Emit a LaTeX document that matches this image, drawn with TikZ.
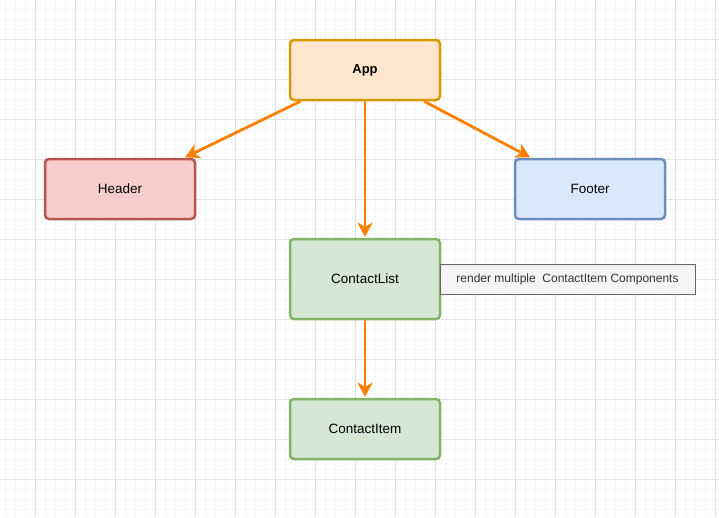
\documentclass[tikz,border=0pt]{standalone}
\usepackage{fontspec}
\setmainfont{Liberation Sans}
\usetikzlibrary{arrows.meta}
\definecolor{gridminor}{HTML}{F6F6F6}
\definecolor{gridmajor}{HTML}{E2E2E2}
\definecolor{appfill}{HTML}{FFE6CC}
\definecolor{appdraw}{HTML}{D79B00}
\definecolor{redfill}{HTML}{F8CECC}
\definecolor{reddraw}{HTML}{B85450}
\definecolor{bluefill}{HTML}{DAE8FC}
\definecolor{bluedraw}{HTML}{6C8EBF}
\definecolor{greenfill}{HTML}{D5E8D4}
\definecolor{greendraw}{HTML}{82B366}
\definecolor{notefill}{HTML}{F5F5F5}
\definecolor{notedraw}{HTML}{666666}
\definecolor{notetext}{HTML}{333333}
\definecolor{edgecol}{HTML}{FF8000}
\begin{document}
\begin{tikzpicture}[x=1pt,y=-1pt,
  box/.style={rectangle, rounded corners=4pt, line width=2.5pt, minimum width=150pt, inner sep=0pt, font=\fontsize{13.5}{16}\selectfont},
  appbox/.style={box, fill=appfill, draw=appdraw, minimum height=60pt, font=\fontsize{13}{16}\selectfont\bfseries},
  redbox/.style={box, fill=redfill, draw=reddraw, minimum height=60pt},
  bluebox/.style={box, fill=bluefill, draw=bluedraw, minimum height=60pt},
  greenbox/.style={box, fill=greenfill, draw=greendraw},
  notebox/.style={rectangle, fill=notefill, draw=notedraw, line width=0.8pt, minimum width=255pt, minimum height=30pt, inner sep=0pt, text=notetext, font=\fontsize{12}{14}\selectfont},
  edge/.style={draw=edgecol, line width=2.8pt, shorten >=1pt, -{Stealth[length=14pt,width=15pt,inset=4pt]}}
]
\useasboundingbox (0,0) rectangle (719,517);
\fill[white] (0,0) rectangle (719,517);
\foreach \x in {5,15,...,715} \draw[gridminor, line width=0.8pt] (\x,0) -- (\x,517);
\foreach \y in {9,19,...,515} \draw[gridminor, line width=0.8pt] (0,\y) -- (719,\y);
\foreach \x in {35,75,...,715} \draw[gridmajor, line width=0.8pt] (\x,0) -- (\x,517);
\foreach \y in {39,79,...,515} \draw[gridmajor, line width=0.8pt] (0,\y) -- (719,\y);

\node[appbox] (app) at (365,70) {App};
\node[redbox] (header) at (120,189) {Header};
\node[bluebox] (footer) at (590,189) {Footer};
\node[greenbox, minimum height=80pt] (list) at (365,279) {ContactList};
\node[greenbox, minimum height=60pt] (item) at (365,429) {ContactItem};
\node[notebox] (note) at (567.5,279) {render multiple\ \ ContactItem Components};

\draw[edge] (app) -- (header);
\draw[edge] (app) -- (footer);
\draw[edge] (app) -- (list);
\draw[edge] (list) -- (item);
\end{tikzpicture}
\end{document}
